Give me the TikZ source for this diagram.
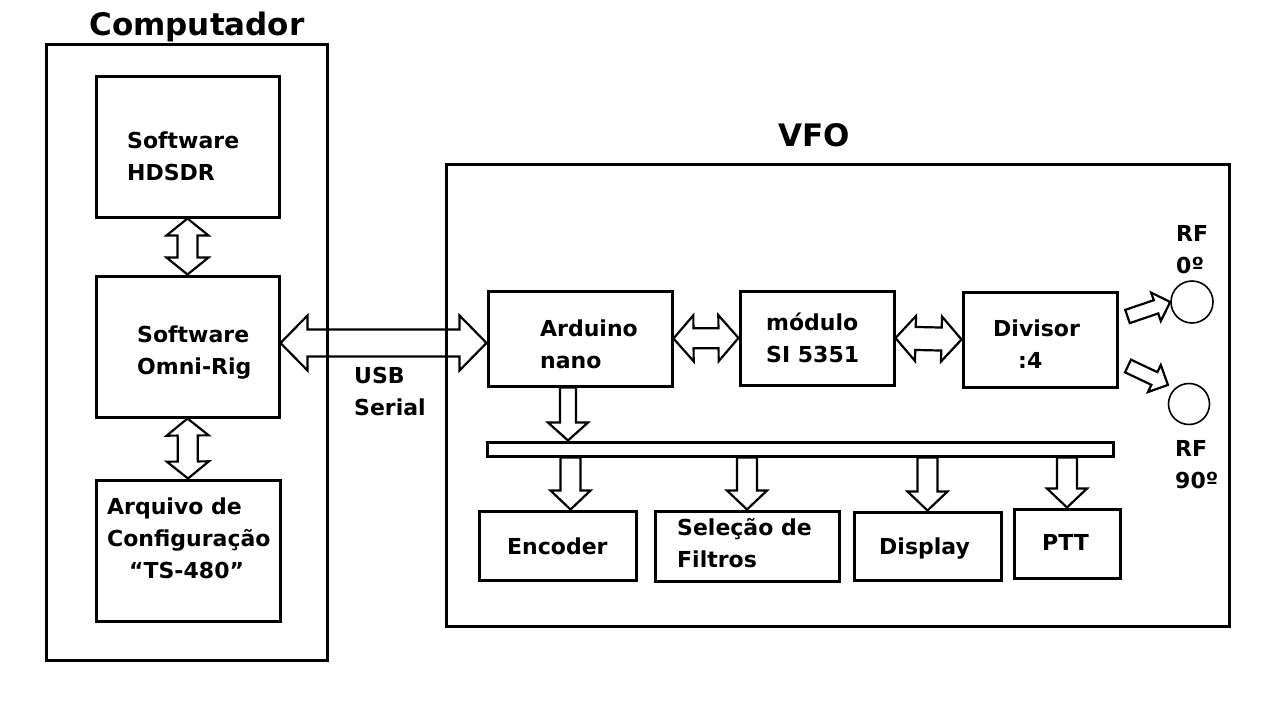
\documentclass[tikz,border=0pt]{standalone}
\usepackage{fontspec}
\setmainfont{DejaVu Sans}
\usetikzlibrary{calc}

\tikzset{
  box/.style={draw, line width=3pt, inner sep=0pt},
  lbl/.style={anchor=base west, inner sep=0pt, align=left, font=\fontsize{22}{32}\selectfont\bfseries},
  title/.style={anchor=base, inner sep=0pt, font=\fontsize{31}{36}\selectfont\bfseries},
  arrshaft/.store in=\arrshaft, arrhead/.store in=\arrhead, arrhlen/.store in=\arrhlen,
  arrshaft=10, arrhead=21, arrhlen=18,
  dblarr/.style={draw, line width=2.2pt, to path={
    let \p1=($(\tikztotarget)-(\tikztostart)$), \n1={veclen(\x1,\y1)}, \n2={atan2(\y1,\x1)} in
    {[shift={(\tikztostart)}, rotate=\n2]
     (0pt,0pt) -- (\arrhlen pt,\arrhead pt) -- (\arrhlen pt,\arrshaft pt)
     -- (\n1-\arrhlen pt,\arrshaft pt) -- (\n1-\arrhlen pt,\arrhead pt) -- (\n1,0pt)
     -- (\n1-\arrhlen pt,-\arrhead pt) -- (\n1-\arrhlen pt,-\arrshaft pt)
     -- (\arrhlen pt,-\arrshaft pt) -- (\arrhlen pt,-\arrhead pt) -- cycle}}},
  sglarr/.style={draw, line width=2.2pt, to path={
    let \p1=($(\tikztotarget)-(\tikztostart)$), \n1={veclen(\x1,\y1)}, \n2={atan2(\y1,\x1)} in
    {[shift={(\tikztostart)}, rotate=\n2]
     (0pt,\arrshaft pt) -- (\n1-\arrhlen pt,\arrshaft pt) -- (\n1-\arrhlen pt,\arrhead pt)
     -- (\n1,0pt) -- (\n1-\arrhlen pt,-\arrhead pt) -- (\n1-\arrhlen pt,-\arrshaft pt)
     -- (0pt,-\arrshaft pt) -- cycle}}},
}

\begin{document}
\begin{tikzpicture}[x=1pt, y=-1pt]
  \useasboundingbox (0,0) rectangle (1280,720);

  % Computador
  \node[box, minimum width=281pt, minimum height=616pt] (comp) at (186.5,352) {};
  \node[title] (comptitle) at (197,35) {Computador};
  \node[box, minimum width=183pt, minimum height=141pt] (hdsdr) at (187.5,146.5) {};
  \node[lbl] (hdsdrtxt) at (127,180) {Software\\HDSDR};
  \node[box, minimum width=183pt, minimum height=141pt] (omni) at (187.5,346.5) {};
  \node[lbl] (omnitxt) at (137,374) {Software\\Omni-Rig};
  \node[box, minimum width=184pt, minimum height=141pt] (arq) at (188,550.5) {};
  \node[lbl] (arqtxt) at (107,578) {Arquivo de\\Configuração\\\hspace*{22pt}“TS-480”};

  \draw[dblarr, arrshaft=10, arrhead=21, arrhlen=17] (hdsdr.south) to (omni.north);
  \draw[dblarr, arrshaft=10, arrhead=21, arrhlen=17] (omni.south) to (arq.north);

  % VFO
  \node[box, minimum width=783pt, minimum height=462pt] (vfo) at (837.5,395) {};
  \node[title] (vfotitle) at (814,146) {VFO};
  \node[box, minimum width=184pt, minimum height=95pt] (arduino) at (580,338.5) {};
  \node[lbl] (arduinotxt) at (540,368) {Arduino\\nano};
  \node[box, minimum width=154pt, minimum height=94pt] (si) at (817,338) {};
  \node[lbl] (sitxt) at (766,362) {módulo\\SI 5351};
  \node[box, minimum width=154pt, minimum height=95pt] (divisor) at (1040,339.5) {};
  \node[lbl] (divisortxt) at (993,368) {Divisor\\\hspace*{25pt}:4};

  % USB link
  \coordinate (usbl) at (omni.east |- 0,343);
  \coordinate (usbr) at (arduino.west |- 0,343);
  \draw[dblarr, arrshaft=13.5, arrhead=27.5, arrhlen=27] (usbl) to (usbr);
  \node[lbl] (usbtxt) at (354,415) {USB\\Serial};

  \draw[dblarr, arrshaft=10, arrhead=23, arrhlen=20] (arduino.east) to (si.west);
  \draw[dblarr, arrshaft=11.5, arrhead=22.5, arrhlen=20] (si.east) to (divisor.west);

  % RF outputs
  \node[circle, draw, line width=1.6pt, minimum size=42pt, inner sep=0pt] (rf0) at (1192,302) {};
  \node[circle, draw, line width=1.6pt, minimum size=41pt, inner sep=0pt] (rf90) at (1189,404) {};
  \node[lbl] (rf0txt) at (1176,273) {RF\\0º};
  \node[lbl] (rf90txt) at (1175,488) {RF\\90º};
  \coordinate (out0) at (1127.5,316.5);
  \coordinate (out90) at (1128,366);
  \draw[sglarr, arrshaft=7, arrhead=15, arrhlen=15] (out0) to (rf0.west);
  \draw[sglarr, arrshaft=7, arrhead=15, arrhlen=15] (out90) to ([shift={(-6pt,4pt)}]rf90.135);

  % Bus and peripherals
  \node[box, minimum width=626pt, minimum height=14pt] (bus) at (800,449) {};
  \coordinate (busin) at ([xshift=-12pt]arduino.south);
  \draw[sglarr, arrshaft=8, arrhead=20, arrhlen=18] (busin) to (busin |- bus.north);

  \node[box, minimum width=157pt, minimum height=69pt] (encoder) at (557.5,545.5) {};
  \node[lbl] (encodertxt) at (507,554) {Encoder};
  \node[box, minimum width=184pt, minimum height=70pt] (selecao) at (747,546) {};
  \node[lbl] (selecaotxt) at (677,567) {Seleção de\\Filtros};
  \node[box, minimum width=147pt, minimum height=68pt] (display) at (927.5,546) {};
  \node[lbl] (displaytxt) at (879,554) {Display};
  \node[box, minimum width=106pt, minimum height=69pt] (ptt) at (1067,543.5) {};
  \node[lbl] (ptttxt) at (1042,550) {PTT};

  \coordinate (encin) at ([xshift=13pt]encoder.north);
  \draw[sglarr, arrshaft=10, arrhead=20, arrhlen=19] (encin |- bus.south) to (encin);
  \draw[sglarr, arrshaft=10, arrhead=20, arrhlen=19] (selecao.north |- bus.south) to (selecao.north);
  \draw[sglarr, arrshaft=10, arrhead=20, arrhlen=19] (display.north |- bus.south) to (display.north);
  \draw[sglarr, arrshaft=10, arrhead=20, arrhlen=19] (ptt.north |- bus.south) to (ptt.north);
\end{tikzpicture}
\end{document}
